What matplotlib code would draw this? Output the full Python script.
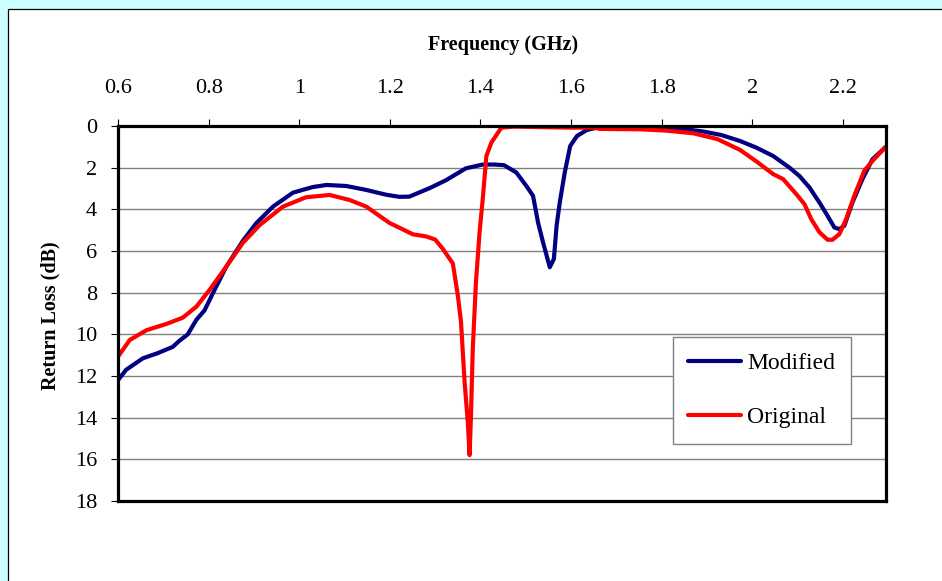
import matplotlib
matplotlib.use("Agg")
import matplotlib.pyplot as plt
from matplotlib.patches import Rectangle

# ---- data ----
mod_f = [0.600, 0.618, 0.655, 0.688, 0.721, 0.736, 0.754, 0.773, 0.791, 0.810,
         0.839, 0.876, 0.905, 0.942, 0.986, 1.030, 1.060, 1.104, 1.148, 1.192,
         1.221, 1.243, 1.288, 1.324, 1.368, 1.405, 1.430, 1.452, 1.479, 1.501,
         1.516, 1.527, 1.538, 1.546, 1.553, 1.562, 1.568, 1.575, 1.586, 1.598,
         1.613, 1.635, 1.657, 1.700, 1.756, 1.832, 1.893, 1.931, 1.973, 2.009,
         2.046, 2.082, 2.104, 2.126, 2.148, 2.166, 2.181, 2.192, 2.203, 2.221,
         2.243, 2.265, 2.295]
mod_rl = [12.2, 11.7, 11.15, 10.9, 10.6, 10.3, 10.0, 9.3, 8.85, 8.0,
          6.75, 5.5, 4.67, 3.87, 3.2, 2.93, 2.83, 2.88, 3.07, 3.3,
          3.4, 3.39, 2.98, 2.6, 2.03, 1.85, 1.85, 1.88, 2.23, 2.87,
          3.35, 4.63, 5.58, 6.22, 6.78, 6.38, 4.78, 3.67, 2.23, 0.96,
          0.48, 0.19, 0.08, 0.03, 0.05, 0.1, 0.27, 0.43, 0.72, 1.04,
          1.44, 2.0, 2.4, 2.95, 3.67, 4.31, 4.87, 4.95, 4.79, 3.67,
          2.55, 1.6, 0.99]

org_f = [0.600, 0.626, 0.663, 0.707, 0.743, 0.773, 0.802, 0.839, 0.876, 0.913,
         0.964, 1.015, 1.067, 1.111, 1.148, 1.199, 1.251, 1.280, 1.300, 1.317,
         1.339, 1.350, 1.357, 1.365, 1.372, 1.376, 1.379, 1.383, 1.390, 1.398,
         1.405, 1.413, 1.424, 1.446, 1.474, 1.527, 1.600, 1.649, 1.664, 1.756,
         1.809, 1.870, 1.923, 1.973, 2.009, 2.046, 2.068, 2.097, 2.115, 2.130,
         2.148, 2.166, 2.177, 2.192, 2.207, 2.225, 2.247, 2.265, 2.295]
org_rl = [11.07, 10.27, 9.8, 9.5, 9.2, 8.67, 7.87, 6.75, 5.6, 4.75,
          3.87, 3.42, 3.31, 3.55, 3.87, 4.65, 5.2, 5.3, 5.45, 5.9,
          6.6, 8.13, 9.4, 12.3, 14.2, 15.8, 13.9, 10.7, 7.5, 5.1,
          3.5, 1.44, 0.8, 0.08, 0.03, 0.05, 0.08, 0.08, 0.14, 0.16,
          0.22, 0.35, 0.63, 1.15, 1.7, 2.31, 2.55, 3.27, 3.75, 4.47,
          5.1, 5.46, 5.46, 5.19, 4.47, 3.35, 2.15, 1.68, 0.99]

x_ticks = [0.6, 0.8, 1.0, 1.2, 1.4, 1.6, 1.8, 2.0, 2.2]
x_tick_labels = ["0.6", "0.8", "1", "1.2", "1.4", "1.6", "1.8", "2", "2.2"]
y_ticks = [0, 2, 4, 6, 8, 10, 12, 14, 16, 18]
y_tick_labels = [str(v) for v in y_ticks]

plt.rcParams['font.family'] = ['Liberation Serif', 'DejaVu Serif']

W, H = 942, 581
fig = plt.figure(figsize=(W / 100, H / 100), dpi=100)
fig.patch.set_facecolor('#CCFFFF')

# white chart area with thin black border
bg = Rectangle((8 / W, -0.05), 1.0, 1 - 9 / H + 0.05,
               transform=fig.transFigure, facecolor='white',
               edgecolor='black', linewidth=0.9, zorder=-10)
fig.patches.append(bg)

ax = fig.add_axes([118 / W, 1 - 501 / H, 768 / W, 375 / H])
ax.set_zorder(2)
ax.set_facecolor('white')

ax.plot(mod_f, mod_rl, color='#000080', lw=3.0, label='Modified',
        solid_joinstyle='round', solid_capstyle='round', zorder=3)
ax.plot(org_f, org_rl, color='#FF0000', lw=3.0, label='Original',
        solid_joinstyle='round', solid_capstyle='round', zorder=4)

ax.set_xlim(0.6, 2.295)
ax.set_ylim(18, 0)

ax.xaxis.tick_top()
ax.set_xticks(x_ticks)
ax.set_xticklabels(x_tick_labels)
ax.set_yticks(y_ticks)
ax.set_yticklabels(y_tick_labels)
ax.tick_params(axis='x', direction='out', length=5, width=0.8, pad=15,
               labelsize=16, colors='black')
ax.tick_params(axis='y', direction='out', length=5, width=0.8, pad=10,
               labelsize=16, colors='black')

ax.yaxis.grid(True, color='#808080', linewidth=1.0, zorder=1)
ax.set_axisbelow(True)
for s in ax.spines.values():
    s.set_linewidth(2.3)
    s.set_color('black')
    s.set_zorder(5)

fig.text(503 / W, 1 - 45 / H, 'Frequency (GHz)', ha='center', va='center',
         fontsize=14.5, fontweight='bold', zorder=3)
fig.text(50 / W, 1 - 316 / H, 'Return Loss (dB)', ha='center', va='center',
         rotation=90, fontsize=14.5, fontweight='bold', zorder=3)

leg = ax.legend(loc='upper left', bbox_to_anchor=((673 - 118) / 768, (501 - 337) / 375),
                borderaxespad=0, frameon=True, fancybox=False, fontsize=17,
                handlelength=2.25, handletextpad=0.25, borderpad=0.65,
                labelspacing=1.4)
leg.get_frame().set_edgecolor('#808080')
leg.get_frame().set_linewidth(1.0)
leg.get_frame().set_facecolor('white')
leg.get_frame().set_alpha(1.0)
leg.set_zorder(6)

fig.savefig('out.png', dpi=100, facecolor=fig.get_facecolor())
